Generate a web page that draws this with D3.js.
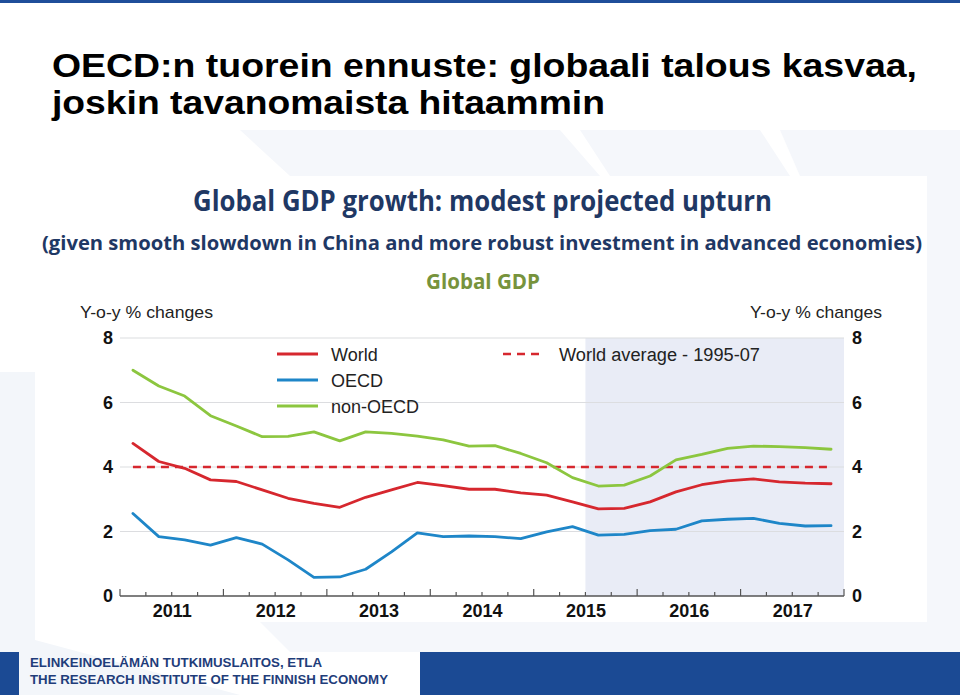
<!DOCTYPE html>
<html>
<head>
<meta charset="utf-8">
<script src="https://cdn.jsdelivr.net/npm/d3@7"></script>
<style>
  html, body { margin: 0; padding: 0; background: #ffffff; }
  svg { display: block; }
</style>
</head>
<body>
<svg id="chart" width="960" height="695"></svg>
<script>
// ---- Data (quarterly, y-o-y % changes, 2011Q1 .. 2017Q4) ----
const years = [2011, 2012, 2013, 2014, 2015, 2016, 2017];
const quarters = ["Q1", "Q2", "Q3", "Q4"];
const world = [4.73, 4.17, 3.96, 3.60, 3.55, 3.29, 3.03, 2.87, 2.75, 3.06, 3.29, 3.52, 3.42, 3.31,
               3.31, 3.20, 3.13, 2.92, 2.70, 2.72, 2.92, 3.23, 3.45, 3.57, 3.63, 3.54, 3.50, 3.48];
const oecd = [2.56, 1.84, 1.74, 1.58, 1.81, 1.61, 1.12, 0.58, 0.59, 0.83, 1.37, 1.96, 1.84, 1.86,
              1.84, 1.78, 1.99, 2.15, 1.89, 1.91, 2.03, 2.07, 2.33, 2.38, 2.41, 2.25, 2.17, 2.18];
const nonOecd = [7.00, 6.51, 6.20, 5.59, 5.27, 4.94, 4.95, 5.09, 4.81, 5.09, 5.04, 4.96, 4.84, 4.65,
                 4.66, 4.42, 4.13, 3.67, 3.41, 3.44, 3.72, 4.22, 4.39, 4.58, 4.65, 4.63, 4.60, 4.55];
const worldAverage = 4.0;           // World average 1995-07
const projectionStart = 2015.5;     // shaded projection period
const yTicks = [0, 2, 4, 6, 8];
const seriesNames = ["World", "OECD", "non-OECD"];
const avgLabel = "World average - 1995-07";

const svg = d3.select("#chart");

// ---- Background decoration (faint slide artwork) ----
const bg = svg.append("g");
bg.append("rect").attr("x", 0).attr("y", 0).attr("width", 960).attr("height", 695).attr("fill", "#ffffff");
bg.append("polygon").attr("points", "0,372 35,372 35,640 240,695 0,695").attr("fill", "#f3f6fa");
bg.append("polygon").attr("points", "240,130 560,130 600,176 290,176").attr("fill", "#f5f7fb");
bg.append("polygon").attr("points", "580,130 760,130 790,176 610,176").attr("fill", "#f5f7fb");
bg.append("polygon").attr("points", "780,130 960,130 960,176 800,176").attr("fill", "#f5f7fb");
bg.append("polygon").attr("points", "927,176 960,176 960,652 927,652").attr("fill", "#f5f7fb");
bg.append("polygon").attr("points", "260,622 927,622 960,652 290,652").attr("fill", "#f5f7fb");
// top blue bar
bg.append("rect").attr("x", 0).attr("y", 0).attr("width", 960).attr("height", 3).attr("fill", "#1f4e9a");

// ---- Slide title ----
const titleFont = "'Liberation Sans Narrow', 'Arial Narrow', 'Liberation Sans', Arial, sans-serif";
svg.append("text").attr("x", 52).attr("y", 77)
  .attr("font-family", titleFont).attr("font-weight", "bold").attr("font-size", 34)
  .attr("fill", "#000").attr("textLength", 865).attr("lengthAdjust", "spacingAndGlyphs")
  .text("OECD:n tuorein ennuste: globaali talous kasvaa,");
svg.append("text").attr("x", 52).attr("y", 114)
  .attr("font-family", titleFont).attr("font-weight", "bold").attr("font-size", 34)
  .attr("fill", "#000").attr("textLength", 553).attr("lengthAdjust", "spacingAndGlyphs")
  .text("joskin tavanomaista hitaammin");

// ---- Chart panel ----
svg.append("rect").attr("x", 35).attr("y", 176).attr("width", 892).attr("height", 446).attr("fill", "#ffffff");

const panelFont = "'Open Sans', 'Noto Sans', sans-serif";
svg.append("text").attr("x", 482.5).attr("y", 211).attr("text-anchor", "middle")
  .attr("font-family", panelFont).attr("font-weight", "bold").attr("font-size", 28)
  .attr("fill", "#1f3864").attr("textLength", 579).attr("lengthAdjust", "spacingAndGlyphs")
  .text("Global GDP growth: modest projected upturn");
svg.append("text").attr("x", 482).attr("y", 250).attr("text-anchor", "middle")
  .attr("font-family", panelFont).attr("font-weight", "bold").attr("font-size", 20)
  .attr("fill", "#1f3864").attr("textLength", 880).attr("lengthAdjust", "spacingAndGlyphs")
  .text("(given smooth slowdown in China and more robust investment in advanced economies)");
svg.append("text").attr("x", 483).attr("y", 289).attr("text-anchor", "middle")
  .attr("font-family", panelFont).attr("font-weight", "bold").attr("font-size", 21)
  .attr("fill", "#77933c").attr("textLength", 114).attr("lengthAdjust", "spacingAndGlyphs")
  .text("Global GDP");

const axisFont = "'Liberation Sans', Arial, Helvetica, sans-serif";
svg.append("text").attr("x", 80).attr("y", 318)
  .attr("font-family", axisFont).attr("font-size", 17).attr("fill", "#222")
  .attr("textLength", 133).attr("lengthAdjust", "spacingAndGlyphs")
  .text("Y-o-y % changes");
svg.append("text").attr("x", 750).attr("y", 318)
  .attr("font-family", axisFont).attr("font-size", 17).attr("fill", "#222")
  .attr("textLength", 132).attr("lengthAdjust", "spacingAndGlyphs")
  .text("Y-o-y % changes");

// ---- Scales ----
const x = d3.scaleLinear().domain([years[0], years[years.length - 1] + 1]).range([120, 844]);
const y = d3.scaleLinear().domain([0, 8]).range([596, 338]);
const tq = i => years[0] + (i + 0.5) / 4;

// projection shading
svg.append("rect")
  .attr("x", x(projectionStart)).attr("y", y(8))
  .attr("width", x(years[years.length - 1] + 1) - x(projectionStart))
  .attr("height", y(0) - y(8))
  .attr("fill", "#e9ecf6");

// gridlines
svg.append("g").selectAll("line").data(yTicks.filter(d => d > 0)).join("line")
  .attr("x1", x.range()[0]).attr("x2", x.range()[1])
  .attr("y1", d => y(d)).attr("y2", d => y(d))
  .attr("stroke", "#dcdde0").attr("stroke-width", 1.2);

// left / right y labels
const yLeft = d3.axisLeft(y).tickValues(yTicks).tickSize(0).tickPadding(0);
const gL = svg.append("g").attr("transform", "translate(113,0)").call(yLeft);
gL.select(".domain").remove();
gL.selectAll("text").attr("font-family", axisFont).attr("font-weight", "bold").attr("font-size", 18).attr("fill", "#111");
const yRight = d3.axisRight(y).tickValues(yTicks).tickSize(0).tickPadding(0);
const gR = svg.append("g").attr("transform", "translate(852,0)").call(yRight);
gR.select(".domain").remove();
gR.selectAll("text").attr("font-family", axisFont).attr("font-weight", "bold").attr("font-size", 18).attr("fill", "#111");

// x axis: baseline + quarter ticks pointing up
const xg = svg.append("g");
xg.append("line").attr("x1", x.range()[0]).attr("x2", x.range()[1])
  .attr("y1", y(0)).attr("y2", y(0)).attr("stroke", "#555").attr("stroke-width", 1.3);
const qTicks = d3.range(0, years.length * 4 + 1).map(i => years[0] + i / 4);
xg.selectAll("line.tick").data(qTicks).join("line").attr("class", "tick")
  .attr("x1", d => x(d)).attr("x2", d => x(d))
  .attr("y1", y(0)).attr("y2", (d, i) => y(0) - (i % 4 === 0 ? 7 : 4))
  .attr("stroke", "#555").attr("stroke-width", 1.2);
const xAxis = d3.axisBottom(x).tickValues(years.map(yr => yr + 0.5)).tickFormat(d => String(Math.floor(d))).tickSize(0).tickPadding(8);
const gX = svg.append("g").attr("transform", `translate(0,${y(0)})`).call(xAxis);
gX.select(".domain").remove();
gX.selectAll("text").attr("font-family", axisFont).attr("font-weight", "bold").attr("font-size", 18).attr("fill", "#111");

// ---- Lines ----
const line = d3.line().x((d, i) => x(tq(i))).y(d => y(d));
const colors = { world: "#d6272e", oecd: "#1e86c8", non: "#8cc63f" };

svg.append("line")
  .attr("x1", x(tq(0))).attr("x2", x(tq(world.length - 1)))
  .attr("y1", y(worldAverage)).attr("y2", y(worldAverage))
  .attr("stroke", colors.world).attr("stroke-width", 2.6).attr("stroke-dasharray", "8,6");

[[nonOecd, colors.non], [world, colors.world], [oecd, colors.oecd]].forEach(([data, c]) => {
  svg.append("path").datum(data).attr("d", line)
    .attr("fill", "none").attr("stroke", c).attr("stroke-width", 2.8)
    .attr("stroke-linejoin", "round").attr("stroke-linecap", "round");
});

// ---- Legend ----
const legend = svg.append("g");
const legItems = [[seriesNames[0], colors.world, 354], [seriesNames[1], colors.oecd, 380], [seriesNames[2], colors.non, 406]];
legItems.forEach(([name, c, ly]) => {
  legend.append("line").attr("x1", 277).attr("x2", 318).attr("y1", ly).attr("y2", ly)
    .attr("stroke", c).attr("stroke-width", 3);
  legend.append("text").attr("x", 331).attr("y", ly + 6.5)
    .attr("font-family", axisFont).attr("font-size", 18).attr("fill", "#222").text(name);
});
legend.append("line").attr("x1", 503).attr("x2", 543).attr("y1", 354).attr("y2", 354)
  .attr("stroke", colors.world).attr("stroke-width", 2.6).attr("stroke-dasharray", "8,6");
legend.append("text").attr("x", 559).attr("y", 360.5)
  .attr("font-family", axisFont).attr("font-size", 18).attr("fill", "#222")
  .attr("textLength", 201).attr("lengthAdjust", "spacingAndGlyphs").text(avgLabel);

// ---- Footer ----
svg.append("rect").attr("x", 0).attr("y", 652).attr("width", 19).attr("height", 43).attr("fill", "#1b4a94");
svg.append("rect").attr("x", 420).attr("y", 652).attr("width", 540).attr("height", 43).attr("fill", "#1b4a94");
svg.append("text").attr("x", 30).attr("y", 667)
  .attr("font-family", axisFont).attr("font-weight", "bold").attr("font-size", 13).attr("fill", "#1f3d7a")
  .attr("textLength", 292).attr("lengthAdjust", "spacingAndGlyphs")
  .text("ELINKEINOELÄMÄN TUTKIMUSLAITOS, ETLA");
svg.append("text").attr("x", 30).attr("y", 684)
  .attr("font-family", axisFont).attr("font-weight", "bold").attr("font-size", 13).attr("fill", "#1f3d7a")
  .attr("textLength", 358).attr("lengthAdjust", "spacingAndGlyphs")
  .text("THE RESEARCH INSTITUTE OF THE FINNISH ECONOMY");
</script>
</body>
</html>
